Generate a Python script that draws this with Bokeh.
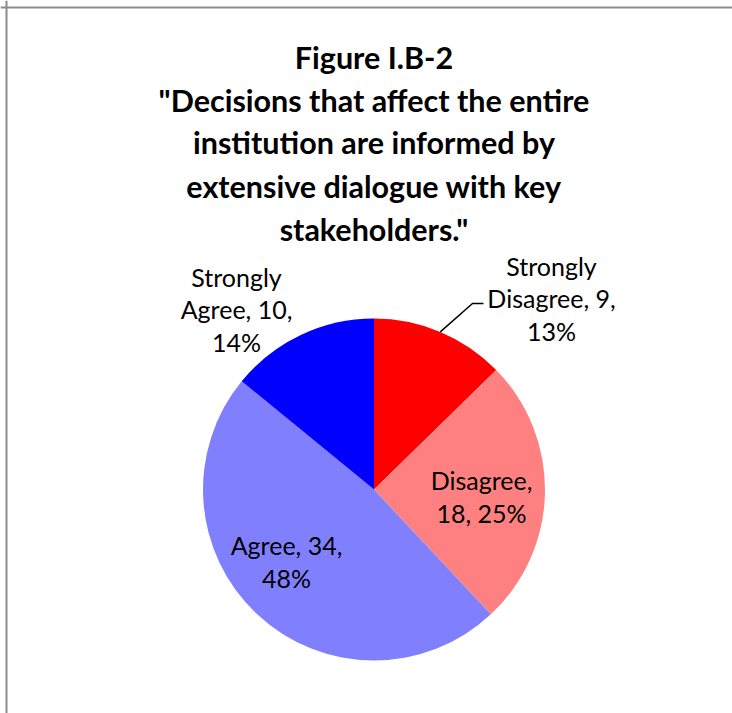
import math
from bokeh.plotting import figure
from bokeh.models import Span, ColumnDataSource, Range1d
from bokeh.core.properties import value
from bokeh.embed import file_html
from bokeh.resources import INLINE

# ---- data ----
categories = ["Strongly Disagree", "Disagree", "Agree", "Strongly Agree"]
counts = [9, 18, 34, 10]
percents = [13, 25, 48, 14]
colors = ["#FF0000", "#FF8080", "#8080FF", "#0000FF"]
title_lines = ["Figure I.B-2",
               "\"Decisions that affect the entire",
               "institution are informed by",
               "extensive dialogue with key",
               "stakeholders.\""]

# ---- layout (data units == screen pixels) ----
W, H = 732, 713
CX, CY, R = 373.5, H - 489.0, 171
label_pos = [(551, H - 298), (481, H - 496), (286, H - 561), (236, H - 309)]
label_wrap = [[1, 2, 1], [1, 2], [2, 1], [1, 2, 1]]
FONT = "Lato"

p = figure(width=W, height=H, x_range=Range1d(0, W), y_range=Range1d(0, H),
           output_backend="svg", toolbar_location=None, min_border=0)
p.axis.visible = False
p.grid.visible = False
p.outline_line_color = None
p.background_fill_color = "white"
p.border_fill_color = "white"

# border (left and top visible in frame)
p.add_layout(Span(location=6, dimension="height", line_color="#8c8c8c", line_width=2))
p.add_layout(Span(location=H - 7, dimension="width", line_color="#8c8c8c", line_width=2))

# wedges
total = sum(counts)
starts, ends, mids = [], [], []
a = math.pi / 2
for c in counts:
    e = a - 2 * math.pi * c / total
    starts.append(a); ends.append(e); mids.append((a + e) / 2)
    a = e
src = ColumnDataSource(dict(x=[CX] * 4, y=[CY] * 4, start=starts, end=ends, color=colors))
p.wedge(x="x", y="y", radius=R, radius_units="screen", start_angle="start", end_angle="end",
        direction="clock", fill_color="color", line_color=None, source=src)

# labels
def wrap(words, groups):
    out, i = [], 0
    for g in groups:
        out.append(" ".join(words[i:i + g])); i += g
    return "\n".join(out)

texts = []
for cat, c, pc, g in zip(categories, counts, percents, label_wrap):
    words = (f"{cat}, {c}, {pc}%").split(" ")
    texts.append(wrap(words, g))
lsrc = ColumnDataSource(dict(x=[q[0] for q in label_pos], y=[q[1] for q in label_pos], text=texts))
p.text(x="x", y="y", text="text", source=lsrc, text_font=value(FONT), text_font_size="25px",
       text_align="center", text_baseline="middle", text_color="black", text_line_height=1.07)

# leader line for Strongly Disagree
m = mids[0]
ex, ey = CX + R * math.cos(m), CY + R * math.sin(m)
lx, ly = label_pos[0][0] - 68, label_pos[0][1] - 5
p.line(x=[lx, lx - 11, ex], y=[ly, ly, ey], line_color="black", line_width=1.5)

# title
ty = [H - 56, H - 99, H - 141, H - 185, H - 228]
p.text(x=[CX] * len(title_lines), y=ty, text=title_lines, text_font=value(FONT),
       text_font_style="bold", text_font_size="30.5px", text_align="center",
       text_baseline="middle", text_color="black")

open("out.html", "w").write(file_html(p, INLINE))
